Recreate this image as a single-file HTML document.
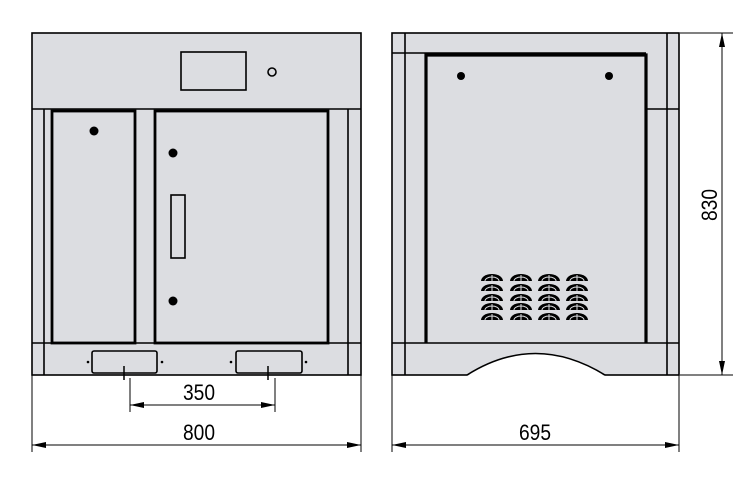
<!DOCTYPE html>
<html><head><meta charset="utf-8"><style>html,body{margin:0;padding:0;background:#fff}svg{display:block}</style></head>
<body>
<svg width="753" height="480" viewBox="0 0 753 480" xmlns="http://www.w3.org/2000/svg">
<defs>
<marker id="a" viewBox="0 0 14 6" refX="14" refY="3" markerWidth="14" markerHeight="6" orient="auto-start-reverse" markerUnits="userSpaceOnUse"><path d="M0,0 L14,3 L0,6 z" fill="#000"/></marker>
<g id="v"><path d="M-11,4 A11,7 0 0 1 11,4 Z" fill="#000"/><path d="M-7,4 A7,4 0 0 1 7,4 M0,-2 V4" stroke="#dcdde1" stroke-width="1" fill="none"/></g>
</defs>
<g fill="#dcdde1" stroke="#000" stroke-width="1.6">
<rect x="32" y="33" width="329" height="342"/>
<line x1="32" y1="109" x2="361" y2="109"/>
<line x1="32" y1="343" x2="361" y2="343"/>
<line x1="44" y1="109" x2="44" y2="375"/>
<line x1="348" y1="109" x2="348" y2="375"/>
<rect x="181" y="52" width="65" height="38"/>
<circle cx="272" cy="72" r="4" fill="none"/>
<rect x="52" y="111" width="83" height="232" stroke-width="2.8"/>
<rect x="155" y="111" width="173" height="232" stroke-width="2.8"/>
<rect x="171" y="195" width="14" height="63"/>
<rect x="92" y="351" width="65" height="22" rx="2"/>
<rect x="236" y="351" width="66" height="22" rx="2"/>
<rect x="392" y="33" width="287" height="342"/>
<line x1="405" y1="33" x2="405" y2="375"/>
<line x1="667" y1="33" x2="667" y2="375"/>
<line x1="392" y1="53" x2="646" y2="53"/>
<line x1="646" y1="109" x2="679" y2="109"/>
<line x1="392" y1="343" x2="679" y2="343"/>
<path d="M426,343 V55 H646 V343" fill="none" stroke-width="3.2"/>
<rect x="428" y="57" width="216" height="285" stroke="none"/>
<path d="M467,376 Q535,332 605,376 Z" fill="#fff" stroke="none"/>
<path d="M467,375 Q535,332 605,375" fill="none"/>
</g>
<g fill="#000">
<circle cx="94" cy="131" r="4.5"/><circle cx="173" cy="153" r="4.5"/><circle cx="173" cy="301" r="4.5"/>
<circle cx="461" cy="76" r="4"/><circle cx="609" cy="76" r="4"/>
<circle cx="88" cy="362" r="1.3"/><circle cx="162" cy="362" r="1.3"/><circle cx="231" cy="362" r="1.3"/><circle cx="306" cy="362" r="1.3"/>
</g>
<g>
<use href="#v" x="492" y="277"/><use href="#v" x="492" y="287"/><use href="#v" x="492" y="297"/><use href="#v" x="492" y="306"/><use href="#v" x="492" y="316"/>
<use href="#v" x="521" y="277"/><use href="#v" x="521" y="287"/><use href="#v" x="521" y="297"/><use href="#v" x="521" y="306"/><use href="#v" x="521" y="316"/>
<use href="#v" x="549" y="277"/><use href="#v" x="549" y="287"/><use href="#v" x="549" y="297"/><use href="#v" x="549" y="306"/><use href="#v" x="549" y="316"/>
<use href="#v" x="577" y="277"/><use href="#v" x="577" y="287"/><use href="#v" x="577" y="297"/><use href="#v" x="577" y="306"/><use href="#v" x="577" y="316"/>
</g>
<g stroke="#000" stroke-width="1" fill="none">
<line x1="124" y1="366" x2="124" y2="380" stroke-width="1.5"/>
<line x1="268" y1="366" x2="268" y2="380" stroke-width="1.5"/>
<line x1="130" y1="378" x2="130" y2="412"/>
<line x1="275" y1="378" x2="275" y2="412"/>
<line x1="130" y1="405" x2="275" y2="405" marker-start="url(#a)" marker-end="url(#a)"/>
<line x1="32" y1="375" x2="32" y2="452"/>
<line x1="361" y1="375" x2="361" y2="452"/>
<line x1="32" y1="445" x2="361" y2="445" marker-start="url(#a)" marker-end="url(#a)"/>
<line x1="392" y1="375" x2="392" y2="452"/>
<line x1="679" y1="375" x2="679" y2="452"/>
<line x1="392" y1="445" x2="679" y2="445" marker-start="url(#a)" marker-end="url(#a)"/>
<line x1="680" y1="33" x2="733" y2="33"/>
<line x1="680" y1="375" x2="733" y2="375"/>
<line x1="722" y1="33" x2="722" y2="375" marker-start="url(#a)" marker-end="url(#a)"/>
</g>
<g font-family="'Liberation Sans Narrow','Liberation Sans',sans-serif" font-size="22" fill="#000" text-anchor="middle">
<text x="199" y="400" textLength="32" lengthAdjust="spacingAndGlyphs">350</text>
<text x="199" y="440" textLength="32" lengthAdjust="spacingAndGlyphs">800</text>
<text x="535" y="440" textLength="32" lengthAdjust="spacingAndGlyphs">695</text>
<text x="0" y="0" transform="translate(717,205) rotate(-90)" textLength="32" lengthAdjust="spacingAndGlyphs">830</text>
</g>
</svg>
</body></html>
